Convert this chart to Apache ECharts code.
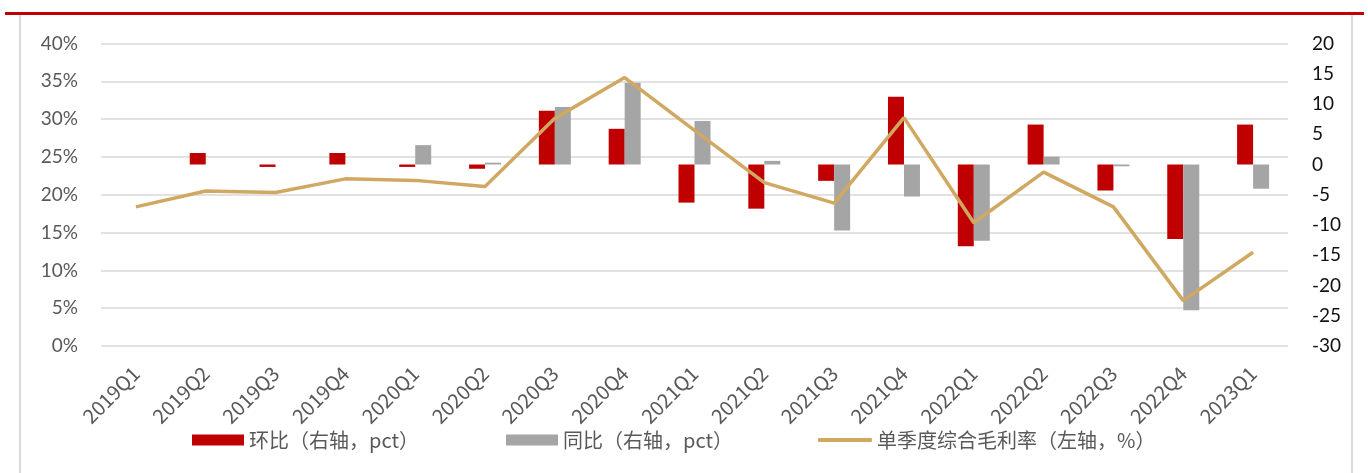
<!DOCTYPE html>
<html>
<head>
<meta charset="utf-8">
<script src="https://cdn.jsdelivr.net/npm/echarts@6/dist/echarts.min.js"></script>
<style>
  html, body { margin: 0; padding: 0; background: #fff; }
  #chart { width: 1368px; height: 473px; }
</style>
</head>
<body>
<div id="chart"></div>
<script>
// 季度
const quarters = ['2019Q1', '2019Q2', '2019Q3', '2019Q4', '2020Q1', '2020Q2', '2020Q3', '2020Q4',
  '2021Q1', '2021Q2', '2021Q3', '2021Q4', '2022Q1', '2022Q2', '2022Q3', '2022Q4', '2023Q1']

// 环比（右轴，pct）
const qoq = [null, 1.9, -0.4, 1.9, -0.4, -0.7, 8.9, 5.9, -6.3, -7.3, -2.7, 11.2, -13.5, 6.6, -4.3, -12.3, 6.6]

// 同比（右轴，pct）
const yoy = [null, null, null, null, 3.2, 0.3, 9.5, 13.5, 7.2, 0.6, -10.9, -5.3, -12.6, 1.3, -0.3, -24.1, -4.0]

// 单季度综合毛利率（左轴，%）
const grossMargin = [18.4, 20.5, 20.3, 22.1, 21.9, 21.1, 30.1, 35.5, 28.5, 21.6, 18.9, 30.2, 16.3, 23.0, 18.4, 6.0, 12.4]

const leftTicks = { min: 0, max: 40, step: 5 }
const rightTicks = { min: -30, max: 20, step: 5 }

const chart = echarts.init(document.getElementById('chart'))

const legendText = {
  fontFamily: 'Noto Sans CJK SC',
  fontSize: 20,
  color: '#595959'
}

const option = {
  animation: false,
  textStyle: { fontFamily: 'Lato' },
  grid: { left: 101, right: 80, top: 43.5, bottom: 127 },
  graphic: [
    { type: 'rect', shape: { x: 5, y: 12, width: 1359, height: 3 }, style: { fill: '#c00000' } },
    { type: 'rect', shape: { x: 19, y: 15, width: 2, height: 458 }, style: { fill: '#d9d9d9' } },
    { type: 'rect', shape: { x: 1351, y: 15, width: 2, height: 458 }, style: { fill: '#d9d9d9' } }
  ],
  legend: [
    {
      data: ['环比（右轴，pct）'], left: 192, top: 430, padding: 0, itemGap: 0,
      itemWidth: 52, itemHeight: 11, icon: 'rect', textStyle: legendText
    },
    {
      data: ['同比（右轴，pct）'], left: 506, top: 430, padding: 0, itemGap: 0,
      itemWidth: 52, itemHeight: 11, icon: 'rect', textStyle: legendText
    },
    {
      data: ['单季度综合毛利率（左轴，%）'], left: 818, top: 430, padding: 0, itemGap: 0,
      itemWidth: 54, itemHeight: 4, icon: 'roundRect', textStyle: legendText
    }
  ],
  xAxis: {
    type: 'category',
    data: quarters,
    axisLine: { show: false },
    axisTick: { show: false },
    axisLabel: {
      interval: 0,
      rotate: 45,
      margin: 24,
      fontFamily: 'Noto Sans CJK SC',
      fontSize: 20,
      color: '#595959'
    }
  },
  yAxis: [
    {
      type: 'value',
      min: leftTicks.min,
      max: leftTicks.max,
      interval: leftTicks.step,
      axisLine: { show: false },
      axisTick: { show: false },
      axisLabel: { formatter: '{value}%', fontSize: 19, color: '#595959', margin: 23 },
      splitLine: { lineStyle: { color: '#d9d9d9', width: 1.5 } }
    },
    {
      type: 'value',
      min: rightTicks.min,
      max: rightTicks.max,
      interval: rightTicks.step,
      axisLine: { show: false },
      axisTick: { show: false },
      axisLabel: { fontSize: 19, color: '#111', margin: 24, align: 'left' },
      splitLine: { show: false }
    }
  ],
  series: [
    {
      name: '环比（右轴，pct）',
      type: 'bar',
      yAxisIndex: 1,
      data: qoq,
      barWidth: 16,
      barGap: '0%',
      itemStyle: { color: '#c00000' }
    },
    {
      name: '同比（右轴，pct）',
      type: 'bar',
      yAxisIndex: 1,
      data: yoy,
      barWidth: 16,
      barGap: '0%',
      itemStyle: { color: '#a5a5a5' }
    },
    {
      name: '单季度综合毛利率（左轴，%）',
      type: 'line',
      yAxisIndex: 0,
      data: grossMargin,
      symbol: 'none',
      lineStyle: { color: '#d0a862', width: 3.5 },
      itemStyle: { color: '#d0a862' },
      z: 5
    }
  ]
}

chart.setOption(option)
</script>
</body>
</html>
